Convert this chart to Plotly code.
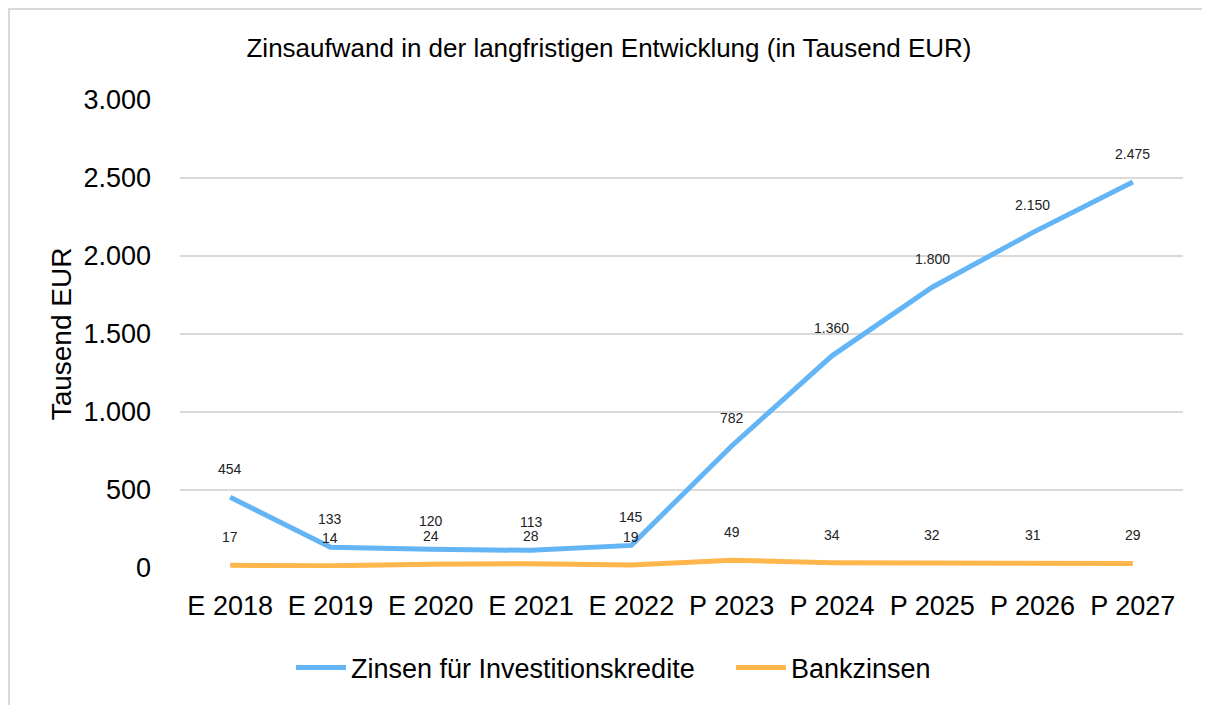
import plotly.graph_objects as go

categories = ["E 2018", "E 2019", "E 2020", "E 2021", "E 2022",
              "P 2023", "P 2024", "P 2025", "P 2026", "P 2027"]
investitionskredite = [454, 133, 120, 113, 145, 782, 1360, 1800, 2150, 2475]
bankzinsen = [17, 14, 24, 28, 19, 49, 34, 32, 31, 29]
y_ticks = [0, 500, 1000, 1500, 2000, 2500, 3000]

FONT = "Arial Narrow, Liberation Sans, Arial, sans-serif"
BLUE = "#64B5F6"
ORANGE = "#FFB74D"

W, H = 1202, 697
L, T, PW, PH = 172, 92, 1003, 468


def de(v):
    return f"{v:,}".replace(",", ".")


fig = go.Figure()
fig.add_trace(go.Scatter(x=categories, y=investitionskredite, mode="lines",
                         name="Zinsen für Investitionskredite",
                         line=dict(color=BLUE, width=5)))
fig.add_trace(go.Scatter(x=categories, y=bankzinsen, mode="lines",
                         name="Bankzinsen",
                         line=dict(color=ORANGE, width=5)))

annotations = []
for series in (investitionskredite, bankzinsen):
    for c, v in zip(categories, series):
        annotations.append(dict(x=c, y=v, xref="x", yref="y", text=de(v),
                                showarrow=False, yshift=28,
                                font=dict(family=FONT, size=14, color="#222222")))

fig.update_layout(
    width=W, height=H,
    paper_bgcolor="white", plot_bgcolor="white",
    margin=dict(l=L, r=W - L - PW, t=T, b=H - T - PH),
    separators=",.",
    font=dict(family=FONT, color="black"),
    title=dict(text="Zinsaufwand in der langfristigen Entwicklung (in Tausend EUR)",
               x=0.5, xref="container", xanchor="center",
               y=1 - 40 / H, yref="container", yanchor="middle",
               font=dict(family=FONT, size=26, color="black")),
    xaxis=dict(type="category", range=[-0.5, 9.5], showgrid=False,
               showline=False, zeroline=False, ticks="",
               tickfont=dict(family=FONT, size=27, color="black"),
               ticklabelstandoff=19),
    yaxis=dict(range=[0, 3000], tickvals=y_ticks, tickformat=",d",
               showgrid=True, gridcolor="#d9d9d9", gridwidth=2,
               zeroline=False, showline=False, ticks="",
               tickfont=dict(family=FONT, size=27, color="black"),
               ticklabelstandoff=28,
               title=dict(text="Tausend EUR", standoff=3,
                          font=dict(family=FONT, size=28, color="black"))),
    legend=dict(orientation="h", x=0.5 + 122 / W, xref="container", xanchor="center",
                y=1 - 660 / H, yref="container", yanchor="middle",
                font=dict(family=FONT, size=27, color="black"),
                itemwidth=50, entrywidth=375, traceorder="normal"),
    annotations=annotations,
    shapes=[dict(type="rect", xref="paper", yref="paper",
                 x0=(1 - L) / PW, x1=(W + 40 - L) / PW,
                 y0=-(H + 40 - T - PH) / PH, y1=1 + (T - 1) / PH,
                 line=dict(color="#d9d9d9", width=2))],
)

fig.write_html("out.html")
